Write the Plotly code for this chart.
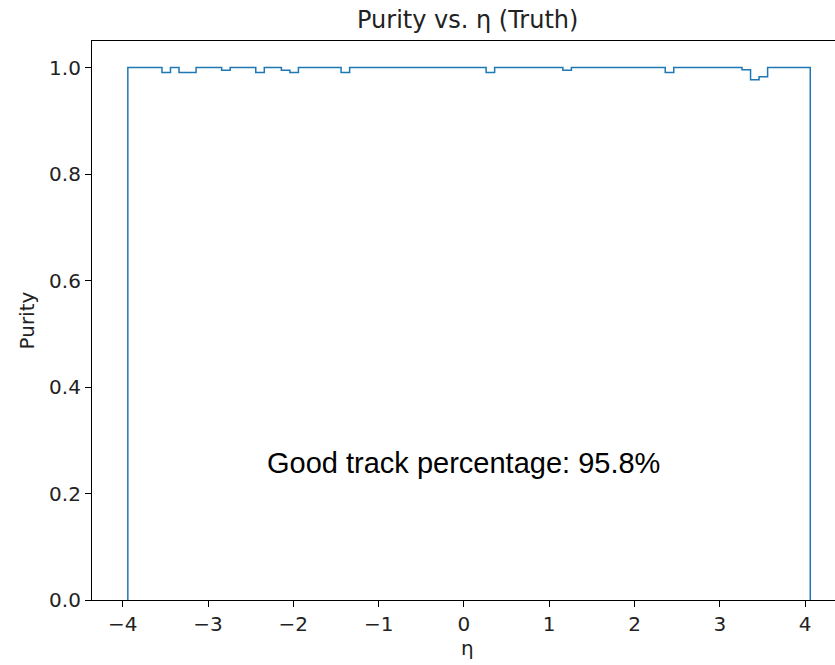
import numpy as np
import plotly.graph_objects as go

# Histogram binning in eta (80 bins of width 0.1)
eta_lo = -3.94
eta_hi = 4.06
n_bins = 80
bin_edges = np.round(np.linspace(eta_lo, eta_hi, n_bins + 1), 2)

# Purity per eta bin
purity = [
    1.0, 1.0, 1.0, 1.0, 0.991, 1.0, 0.991, 0.991, 1.0, 1.0,
    1.0, 0.995, 1.0, 1.0, 1.0, 0.991, 1.0, 1.0, 0.995, 0.991,
    1.0, 1.0, 1.0, 1.0, 1.0, 0.991, 1.0, 1.0, 1.0, 1.0,
    1.0, 1.0, 1.0, 1.0, 1.0, 1.0, 1.0, 1.0, 1.0, 1.0,
    1.0, 1.0, 0.991, 1.0, 1.0, 1.0, 1.0, 1.0, 1.0, 1.0,
    1.0, 0.995, 1.0, 1.0, 1.0, 1.0, 1.0, 1.0, 1.0, 1.0,
    1.0, 1.0, 1.0, 0.991, 1.0, 1.0, 1.0, 1.0, 1.0, 1.0,
    1.0, 1.0, 0.996, 0.977, 0.983, 1.0, 1.0, 1.0, 1.0, 1.0,
]

y_ticks = [0.0, 0.2, 0.4, 0.6, 0.8, 1.0]
x_ticks = [-4, -3, -2, -1, 0, 1, 2, 3, 4]
good_track_pct = 95.8

# Step outline (like histtype="step"): rise from 0, follow bins, drop to 0
step_x = [bin_edges[0]] + list(bin_edges[:-1]) + [bin_edges[-1], bin_edges[-1]]
step_y = [0.0] + list(purity) + [purity[-1], 0.0]

fig = go.Figure()
fig.add_trace(go.Scatter(
    x=step_x, y=step_y, mode="lines", line_shape="hv",
    line=dict(color="#1f77b4", width=1.5), hoverinfo="skip", showlegend=False,
))

tick_font = dict(family="DejaVu Sans", size=20, color="#222222")

fig.update_layout(
    width=835, height=665,
    margin=dict(l=92, r=0, t=41, b=65),
    paper_bgcolor="white", plot_bgcolor="white",
    xaxis=dict(
        range=[-4.36, 4.35], tickvals=x_ticks,
        ticktext=[str(v).replace("-", "\u2212") for v in x_ticks],
        showgrid=False, zeroline=False, showline=True, linecolor="black",
        linewidth=1.2, mirror=True, ticks="outside", ticklen=6, tickwidth=1.2,
        tickcolor="black", tickfont=tick_font,
    ),
    yaxis=dict(
        range=[0, 1.05], tickvals=y_ticks,
        ticktext=[f"{v:.1f}" for v in y_ticks],
        showgrid=False, zeroline=False, showline=True, linecolor="black",
        linewidth=1.2, ticks="outside", ticklen=6, tickwidth=1.2,
        tickcolor="black", tickfont=tick_font,
    ),
    annotations=[
        dict(text="Purity vs. \u03b7 (Truth)", xref="paper", yref="paper",
             x=0.505, y=1.0, yshift=21, xanchor="center", yanchor="middle",
             showarrow=False, font=dict(family="DejaVu Sans", size=24, color="#222222")),
        dict(text="Purity", xref="paper", yref="paper", x=0, xshift=-66,
             y=0.5, textangle=-90, xanchor="center", yanchor="middle",
             showarrow=False, font=dict(family="DejaVu Sans", size=20, color="#222222")),
        dict(text="\u03b7", xref="paper", yref="paper", x=0.505, y=0,
             yshift=-48, xanchor="center", yanchor="middle",
             showarrow=False, font=dict(family="DejaVu Sans", size=20, color="#222222")),
        dict(text=f"Good track percentage: {good_track_pct}%", xref="x", yref="y",
             x=0, y=0.257, xanchor="center", yanchor="middle", showarrow=False,
             font=dict(family="Liberation Sans", size=29, color="black")),
    ],
)

fig.write_html("out.html")
